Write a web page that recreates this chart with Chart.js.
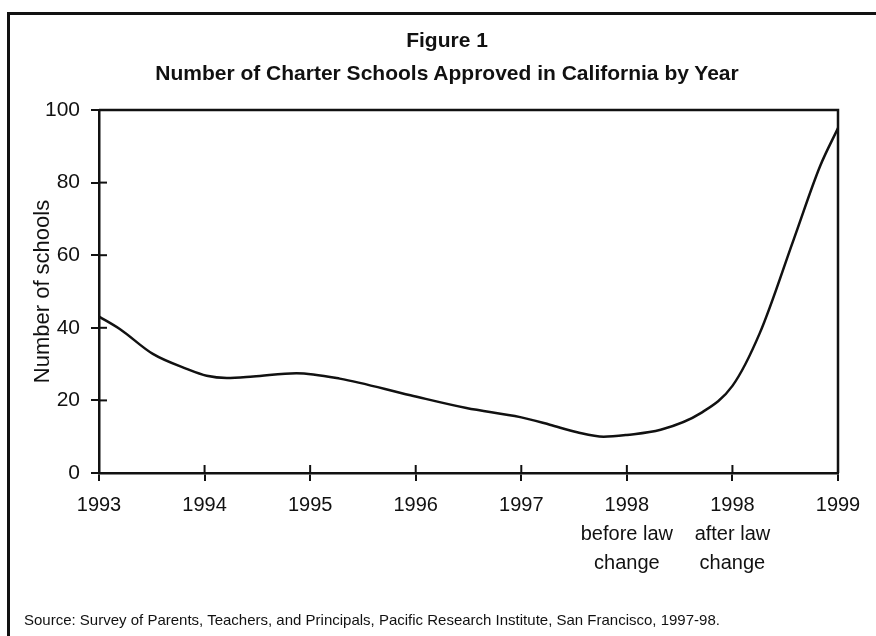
<!DOCTYPE html>
<html>
<head>
<meta charset="utf-8">
<script src="https://cdn.jsdelivr.net/npm/chart.js@4"></script>
<style>
  body { margin: 0; background: #fff; }
  #page { position: relative; width: 876px; height: 636px; overflow: hidden; background: #fff; }
  #frame { position: absolute; left: 7px; top: 12px; width: 900px; height: 700px;
           border-left: 3px solid #111; border-top: 3px solid #111; }
  #title { position: absolute; left: 0; top: 23px; width: 894px; text-align: center;
           font: bold 21px 'Liberation Sans', Arial, sans-serif;
           line-height: 33px; color: #111; }
  #source { position: absolute; left: 24px; top: 611px; white-space: nowrap;
            font: 15px 'Liberation Sans', Arial, sans-serif; color: #111; }
  #wrap { position: absolute; left: 0; top: 0; width: 876px; height: 636px; }
</style>
</head>
<body>
<div id="page">
  <div id="frame"></div>
  <div id="wrap"><canvas id="chart"></canvas></div>
  <div id="title">Figure 1<br>Number of Charter Schools Approved in California by Year</div>
  <div id="source">Source: Survey of Parents, Teachers, and Principals, Pacific Research Institute, San Francisco, 1997-98.</div>
</div>
<script>
// x軸ラベル
var yearLabels = ['1993', '1994', '1995', '1996', '1997',
  ['1998', 'before law', 'change'], ['1998', 'after law', 'change'], '1999'];
// 曲線の読み取り位置 (ラベル位置 0..7)
var xPos = [0, 0.2, 0.51, 0.83, 1.02, 1.21, 1.46, 1.87, 2.28, 2.95, 3.48, 3.99,
  4.27, 4.53, 4.78, 5.0, 5.32, 5.7, 6.0, 6.26, 6.58, 6.83, 7];
var schools = [43.1, 39.6, 32.8, 28.7, 26.8, 26.2, 26.6, 27.5, 26.0, 21.4, 17.9, 15.4,
  13.3, 11.2, 10.0, 10.5, 11.9, 16.5, 24, 38.6, 64.3, 84.5, 95];
var yTicks = [0, 20, 40, 60, 80, 100];

var fontFamily = "'Liberation Sans', Arial, sans-serif";
var points = xPos.map(function(x, i) { return { x: x, y: schools[i] }; });

// 目盛りの内側部分と枠線
var innerTicks = {
  id: 'innerTicks',
  afterDraw: function(chart) {
    var ctx = chart.ctx, a = chart.chartArea;
    var xs = chart.scales.x, ys = chart.scales.y;
    ctx.save();
    ctx.strokeStyle = '#111';
    ctx.lineWidth = 2;
    xs.ticks.forEach(function(t) {
      var px = xs.getPixelForValue(t.value);
      ctx.beginPath(); ctx.moveTo(px, a.bottom); ctx.lineTo(px, a.bottom - 8); ctx.stroke();
    });
    ys.ticks.forEach(function(t) {
      var py = ys.getPixelForValue(t.value);
      ctx.beginPath(); ctx.moveTo(a.left, py); ctx.lineTo(a.left + 8, py); ctx.stroke();
    });
    ctx.lineWidth = 2.5;
    ctx.beginPath();
    ctx.moveTo(a.left, a.top); ctx.lineTo(a.right, a.top); ctx.lineTo(a.right, a.bottom);
    ctx.stroke();
    ctx.restore();
  }
};

new Chart(document.getElementById('chart'), {
  type: 'line',
  data: {
    datasets: [{
      data: points,
      borderColor: '#111',
      borderWidth: 2.5,
      pointRadius: 0,
      cubicInterpolationMode: 'monotone',
      fill: false
    }]
  },
  options: {
    responsive: true,
    maintainAspectRatio: false,
    animation: false,
    layout: { padding: { top: 110, right: 38, left: 0, bottom: 0 } },
    plugins: { legend: { display: false }, tooltip: { enabled: false } },
    scales: {
      x: {
        type: 'linear',
        min: 0,
        max: 7,
        afterFit: function(s) { s.height = 163; },
        afterBuildTicks: function(s) {
          s.ticks = yearLabels.map(function(l, i) { return { value: i }; });
        },
        border: { color: '#111', width: 2.5 },
        grid: { drawOnChartArea: false, tickLength: 8, color: '#111', lineWidth: 2 },
        ticks: {
          color: '#111',
          padding: 10,
          maxRotation: 0,
          autoSkip: false,
          font: { family: fontFamily, size: 20, lineHeight: 1.45 },
          callback: function(v) { return yearLabels[v]; }
        }
      },
      y: {
        min: 0,
        max: 100,
        afterFit: function(s) { s.width = 99; },
        afterBuildTicks: function(s) {
          s.ticks = yTicks.map(function(v) { return { value: v }; });
        },
        border: { color: '#111', width: 2.5 },
        grid: { drawOnChartArea: false, tickLength: 8, color: '#111', lineWidth: 2 },
        ticks: {
          color: '#111',
          padding: 11,
          font: { family: fontFamily, size: 21 }
        },
        title: {
          display: true,
          text: 'Number of schools',
          color: '#111',
          padding: { top: 30, bottom: 0 },
          font: { family: fontFamily, size: 22 }
        }
      }
    }
  },
  plugins: [innerTicks]
});
</script>
</body>
</html>
